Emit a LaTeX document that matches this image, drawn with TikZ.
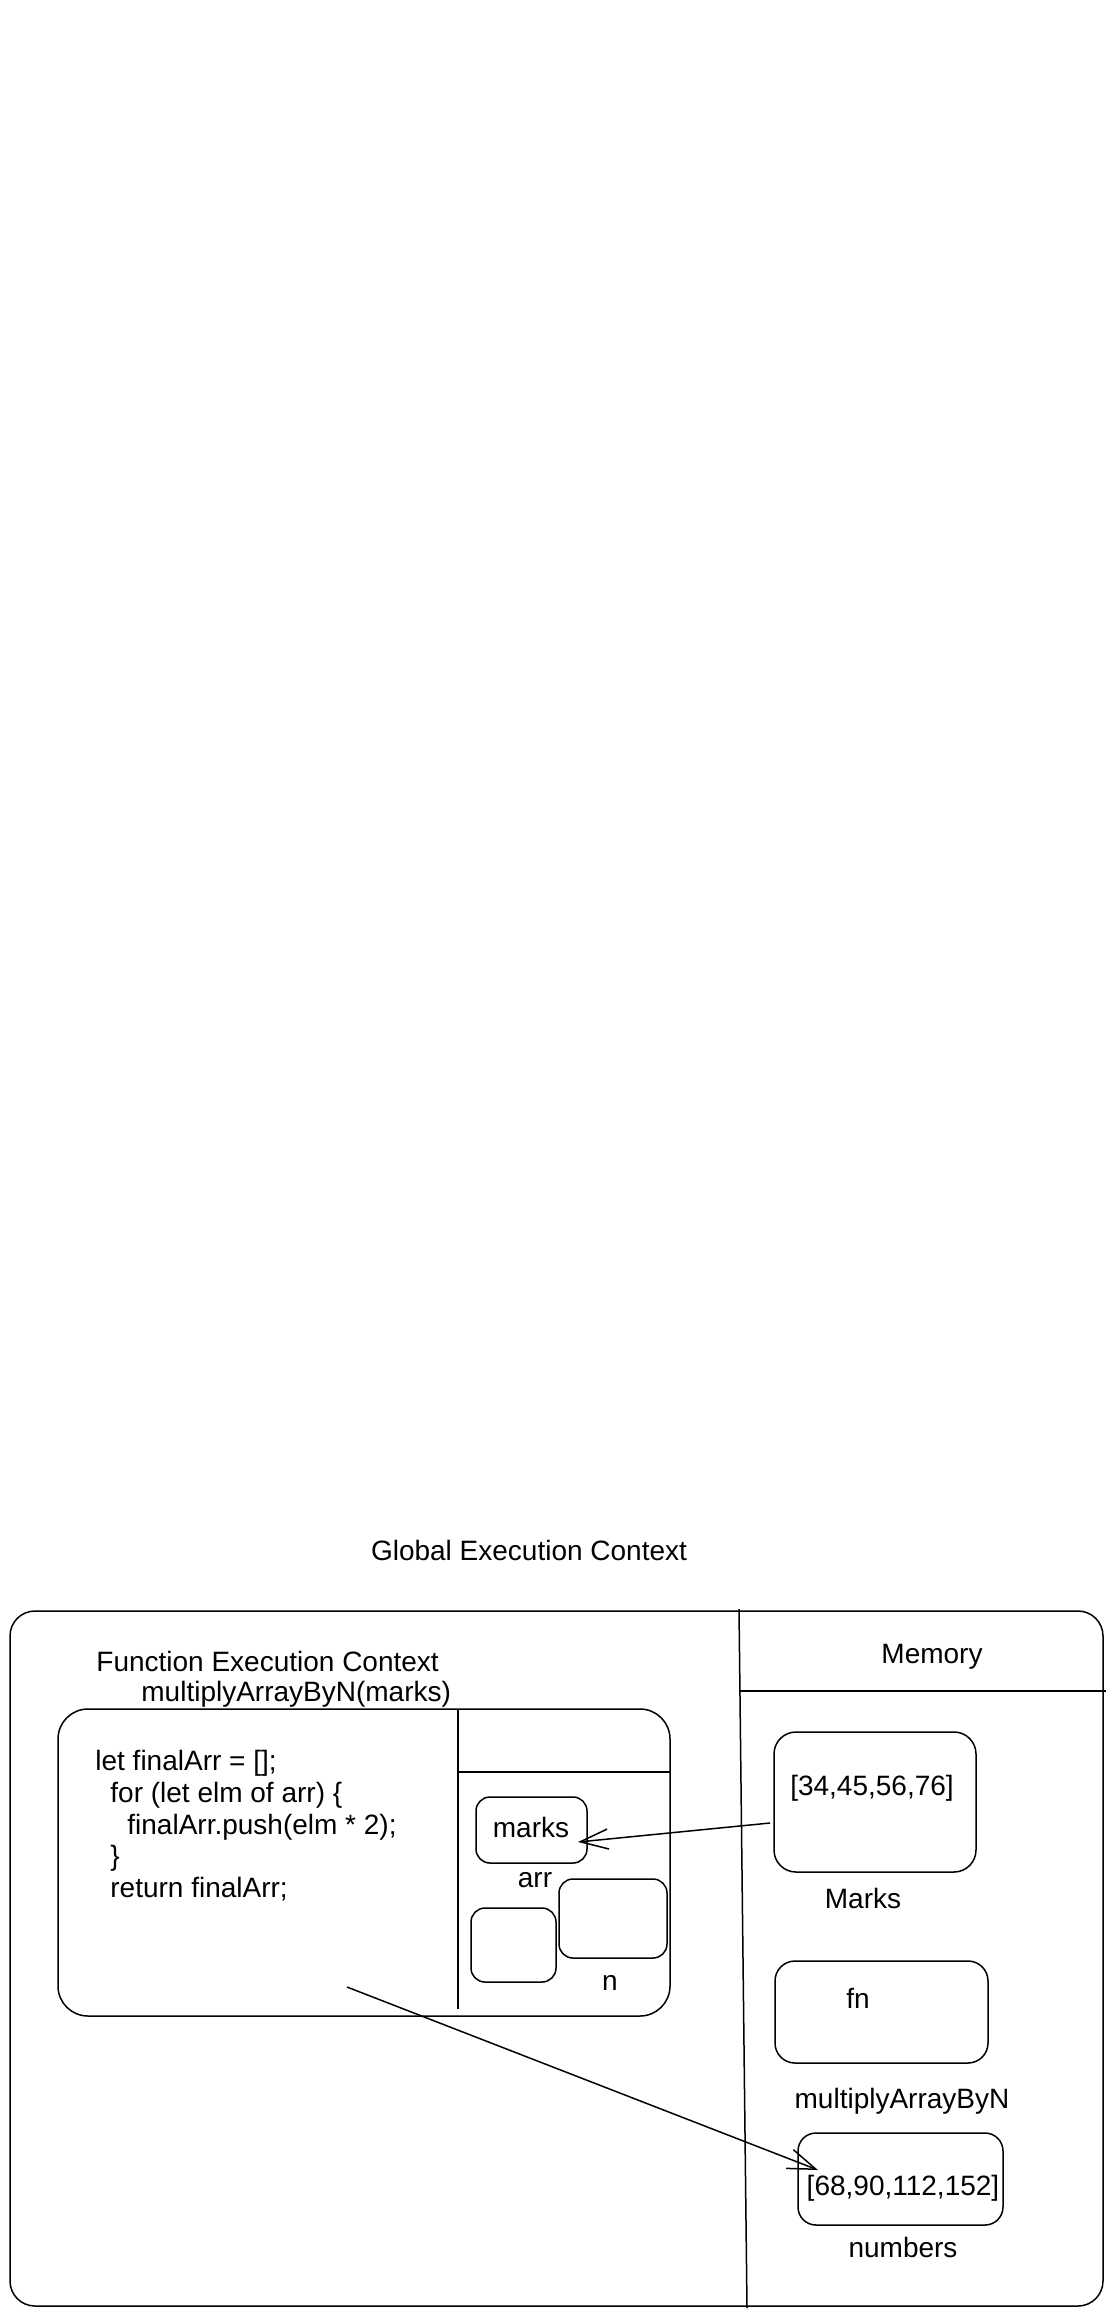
\documentclass[tikz,border=0pt]{standalone}
\usepackage{fontspec}
\setmainfont{Liberation Sans}
\usetikzlibrary{arrows.meta,fit}
\begin{document}
\begin{tikzpicture}[x=0.5pt,y=-0.5pt,
  every node/.style={font=\fontsize{14}{17}\selectfont},
  frame/.style={draw, line width=0.75pt, rounded corners=#1, inner sep=0pt},
  frame/.default=8pt,
  txt/.style={inner sep=0pt, anchor=base},
  txtl/.style={inner sep=0pt, anchor=base west},
  ln/.style={line width=0.75pt},
  arr/.style={line width=0.75pt, -{Straight Barb[length=14pt,width=10pt]}}]
\useasboundingbox (0,0) rectangle (1116,2319);

% title
\node[txt] (title) at (529,1560) {Global Execution Context};

% global context frame
\node[frame=12.5pt, fit={(10,1611)(1103,2306)}] (outer) {};
\draw[ln] (739,1609) -- (747,2308);
\draw[ln] (740,1691) -- (1106,1691);
\node[txt] (memlbl) at (932,1663) {Memory};

% function execution context
\node[txtl] (fec1) at (96,1671) {Function Execution Context};
\node[txtl] (fec2) at (141,1701) {multiplyArrayByN(marks)};
\node[frame=15pt, fit={(58,1709)(670,2016)}] (fec) {};
\draw[ln] (458,1709) -- (458,2009);
\draw[ln] (458,1772) -- (670,1772);

% code
\node[txtl] (c1) at (95,1770) {let finalArr = [];};
\node[txtl] (c2) at (110,1802) {for (let elm of arr) \{};
\node[txtl] (c3) at (127,1834) {finalArr.push(elm * 2);};
\node[txtl] (c4) at (110,1865) {\}};
\node[txtl] (c5) at (110,1897) {return finalArr;};

% local memory
\node[frame=7pt, fit={(476,1797)(587,1863)}] (marksbox) {};
\node[txt] (markstxt) at (531,1837) {marks};
\node[txt] (arrlbl) at (535,1887) {arr};
\node[frame=7pt, fit={(471,1908)(556,1982)}] (smallbox) {};
\node[frame=7pt, fit={(559,1879)(667,1958)}] (nbox) {};
\node[txt] (nlbl) at (610,1990) {n};

% global memory
\node[frame=11pt, fit={(774,1732)(976,1872)}] (marksmem) {};
\node[txt] (marksval) at (872,1795) {[34,45,56,76]};
\node[txt] (markslbl) at (863,1908) {Marks};
\node[frame=10pt, fit={(775,1961)(988,2063)}] (fnbox) {};
\node[txt] (fntxt) at (858,2008) {fn};
\node[txt] (fnlbl) at (902,2108) {multiplyArrayByN};
\node[frame=9pt, fit={(798,2133)(1003,2225)}] (numbox) {};
\node[txt] (numval) at (903,2195) {[68,90,112,152]};
\node[txt] (numlbl) at (903,2257) {numbers};

% arrows
\coordinate (a1s) at (770,1823);
\coordinate (a1e) at (578,1842);
\coordinate (a2s) at (347,1987);
\coordinate (a2e) at (818,2170);
\draw[arr] (a1s) -- (a1e);
\draw[arr] (a2s) -- (a2e);
\end{tikzpicture}
\end{document}
